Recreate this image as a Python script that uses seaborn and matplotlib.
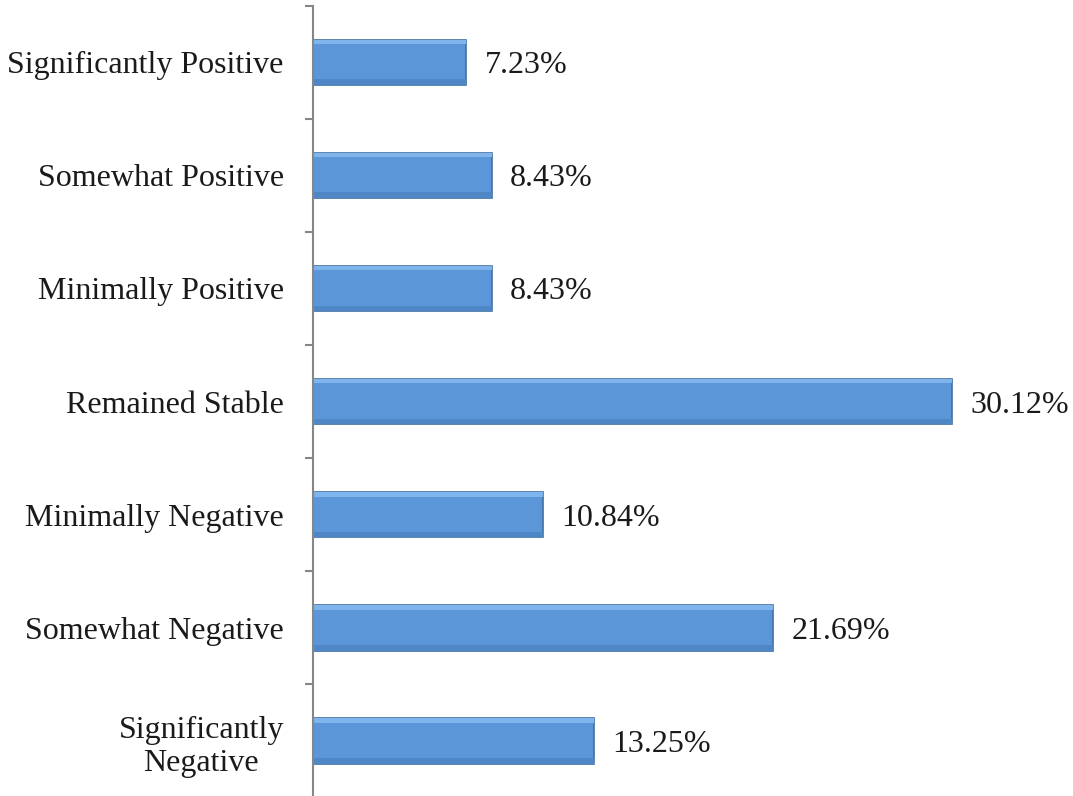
import matplotlib
matplotlib.use("Agg")
import matplotlib.pyplot as plt
import seaborn as sns
import pandas as pd

# ── DATA ───────────────────────────────────────────────
categories = ["Significantly Positive", "Somewhat Positive", "Minimally Positive",
              "Remained Stable", "Minimally Negative", "Somewhat Negative",
              "Significantly\nNegative"]
values = [7.23, 8.43, 8.43, 30.12, 10.84, 21.69, 13.25]
value_labels = ["7.23%", "8.43%", "8.43%", "30.12%", "10.84%", "21.69%", "13.25%"]

df = pd.DataFrame({"category": categories, "value": values})

# ── STYLE ──────────────────────────────────────────────
sns.set_style("white")
plt.rcParams["font.family"] = ["Liberation Serif", "DejaVu Serif"]

fig = plt.figure(figsize=(10.73, 7.96), dpi=100)
ax = fig.add_axes([0.2917, -0.002, 0.7083, 0.995])

sns.barplot(data=df, y="category", x="value", orient="h", color="#5b96d9",
            width=0.4, edgecolor="#41709f", linewidth=1.2, ax=ax, saturation=1)

# soft bevel on each bar (lighter top, darker bottom)
for patch in ax.patches:
    x0, y0 = patch.get_x(), patch.get_y()
    w, h = patch.get_width(), patch.get_height()
    ax.add_patch(plt.Rectangle((x0, y0), w, h * 0.1, color="#7fb4ec",
                               linewidth=0, zorder=patch.get_zorder() + 0.1))
    ax.add_patch(plt.Rectangle((x0, y0 + h * 0.88), w, h * 0.12, color="#4f86c6",
                               linewidth=0, zorder=patch.get_zorder() + 0.1))

# value labels
for i, (v, lab) in enumerate(zip(values, value_labels)):
    ax.text(v + 0.85, i, lab, va="center_baseline", ha="left", fontsize=23,
            color="#1a1a1a")

ax.set_xlim(0, 35.8)
ax.set_ylim(6.5, -0.5)
ax.set_xlabel("")
ax.set_ylabel("")
ax.set_xticks([])

# axis & ticks
for side in ["top", "right", "bottom"]:
    ax.spines[side].set_visible(False)
ax.spines["left"].set_color("#868686")
ax.spines["left"].set_linewidth(1.5)

ax.set_yticks(range(len(categories)))
ax.set_yticklabels(categories, fontsize=23, color="#1a1a1a")
for t in ax.get_yticklabels():
    t.set_multialignment("center")
ax.tick_params(axis="y", which="major", length=0, pad=21)
ax.set_yticks([i - 0.5 for i in range(len(categories) + 1)], minor=True)
ax.tick_params(axis="y", which="minor", length=6, width=1.5, color="#868686", left=True)

plt.savefig("out.png", dpi=100)
